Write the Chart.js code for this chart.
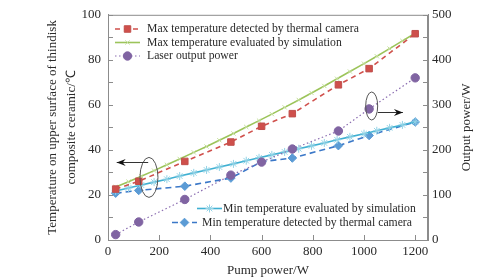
<!DOCTYPE html>
<html>
<head>
<meta charset="utf-8">
<script src="https://cdn.jsdelivr.net/npm/chart.js@4.4.0/dist/chart.umd.min.js"></script>
<style>
  html, body { margin: 0; padding: 0; background: #fff; }
</style>
</head>
<body>
<canvas id="lineChart" width="490" height="280"></canvas>
<script>
// measured points
var pumpPower   = [30, 120, 300, 480, 600, 720, 900, 1020, 1200];
var maxDetected = [22.6, 26.1, 34.9, 43.5, 50.5, 56.1, 68.9, 76.1, 91.6];
var minDetected = [20.8, 22.0, 23.9, 27.5, 34.8, 36.4, 41.9, 46.4, 52.4];
var laserOutput = [12, 40, 90, 144, 173, 202, 242, 291, 360];

// simulation points
var simPower = [30, 80, 130, 180, 230, 280, 335, 385, 435, 490, 540, 590,
                640, 690, 745, 795, 845, 895, 945, 1000, 1050, 1100, 1150, 1200];
var maxSim = [23.5, 25.9, 28.3, 30.8, 33.4, 36.0, 38.9, 41.5, 44.3, 47.3, 50.2, 53.0,
              55.9, 58.9, 62.2, 65.3, 68.4, 71.6, 74.8, 78.3, 81.6, 85.0, 88.4, 91.8];
var minSim = [21.8, 23.1, 24.4, 25.7, 27.0, 28.4, 29.8, 31.1, 32.4, 33.8, 35.2, 36.5,
              37.8, 39.1, 40.5, 41.8, 43.1, 44.5, 45.8, 47.2, 48.5, 49.8, 51.1, 52.5];

var xTicks = [0, 200, 400, 600, 800, 1000, 1200];

function pts(xs, ys) {
    return xs.map(function (x, i) { return { x: x, y: ys[i] }; });
}

var serif = 'Liberation Serif';
var textColor = '#2a2a2a';
var axisColor = '#8c8c8c';

// legend entries drawn inside the plot (sample start, text start, row)
var legendSpots = [
    { ds: 0, x: 115, tx: 147, y: 29 },
    { ds: 1, x: 115, tx: 147, y: 42.5 },
    { ds: 2, x: 115, tx: 147, y: 56 },
    { ds: 3, x: 197, tx: 223, y: 208.5 },
    { ds: 4, x: 172, tx: 202, y: 222.5 }
];

var insideLegend = {
    id: 'insideLegend',
    afterDraw: function (chart) {
        var ctx = chart.ctx;
        ctx.save();
        legendSpots.forEach(function (s) {
            var ds = chart.data.datasets[s.ds];
            ctx.strokeStyle = ds.borderColor;
            ctx.lineWidth = ds.borderWidth;
            ctx.setLineDash(ds.borderDash || []);
            ctx.beginPath();
            ctx.moveTo(s.x, s.y);
            ctx.lineTo(s.x + 25, s.y);
            ctx.stroke();
            ctx.setLineDash([]);
            ctx.fillStyle = ds.pointBackgroundColor;
            ctx.strokeStyle = ds.pointBorderColor;
            ctx.lineWidth = ds.pointBorderWidth;
            Chart.helpers.drawPoint(ctx, {
                pointStyle: ds.pointStyle, radius: ds.pointRadius,
                borderWidth: ds.pointBorderWidth, rotation: 0
            }, s.x + 12.5, s.y);
            ctx.fillStyle = textColor;
            ctx.font = '11.7px "' + serif + '"';
            ctx.textBaseline = 'middle';
            ctx.textAlign = 'left';
            ctx.fillText(ds.label, s.tx, s.y);
        });
        ctx.restore();
    }
};

// frame, inward tick marks, right title, ellipses and arrows
var frameMarks = {
    id: 'frameMarks',
    afterDraw: function (chart) {
        var ctx = chart.ctx, a = chart.chartArea;
        var sx = chart.scales.x, sy = chart.scales.y, sy1 = chart.scales.y1;
        ctx.save();
        ctx.strokeStyle = axisColor;
        ctx.lineWidth = 1;
        ctx.strokeRect(a.left + 0.5, a.top + 0.5, a.right - a.left - 1, a.bottom - a.top);
        ctx.beginPath();
        sx.ticks.forEach(function (t) {
            var px = Math.round(sx.getPixelForValue(t.value)) + 0.5;
            ctx.moveTo(px, a.bottom); ctx.lineTo(px, a.bottom - 5);
        });
        sy.ticks.forEach(function (t) {
            var py = Math.round(sy.getPixelForValue(t.value)) + 0.5;
            ctx.moveTo(a.left, py); ctx.lineTo(a.left + 5, py);
        });
        sy1.ticks.forEach(function (t) {
            var py = Math.round(sy1.getPixelForValue(t.value)) + 0.5;
            ctx.moveTo(a.right, py); ctx.lineTo(a.right - 5, py);
        });
        ctx.stroke();

        // right axis title, reading bottom to top
        ctx.save();
        ctx.translate(sy1.right - 23, (a.top + a.bottom) / 2);
        ctx.rotate(-Math.PI / 2);
        ctx.fillStyle = textColor;
        ctx.font = '13px "' + serif + '"';
        ctx.textAlign = 'center';
        ctx.textBaseline = 'middle';
        ctx.fillText('Output power/W', 0, 0);
        ctx.restore();

        // ellipses
        ctx.strokeStyle = '#555';
        ctx.beginPath();
        ctx.ellipse(sx.getPixelForValue(160), sy.getPixelForValue(27.8), 9, 20, 0, 0, Math.PI * 2);
        ctx.stroke();
        ctx.beginPath();
        ctx.ellipse(sx.getPixelForValue(1030), sy.getPixelForValue(59.5), 6, 14, 0, 0, Math.PI * 2);
        ctx.stroke();

        function arrow(x0, x1, y) {
            ctx.strokeStyle = '#333';
            ctx.fillStyle = '#111';
            ctx.beginPath();
            ctx.moveTo(x0, y); ctx.lineTo(x1, y);
            ctx.stroke();
            var d = x1 > x0 ? 1 : -1;
            ctx.beginPath();
            ctx.moveTo(x1, y);
            ctx.lineTo(x1 - d * 9, y - 3.5);
            ctx.lineTo(x1 - d * 6, y);
            ctx.lineTo(x1 - d * 9, y + 3.5);
            ctx.closePath();
            ctx.fill();
        }
        arrow(sx.getPixelForValue(157), sx.getPixelForValue(34), Math.round(sy.getPixelForValue(34.5)) + 0.5);
        arrow(sx.getPixelForValue(1054), sx.getPixelForValue(1152), Math.round(sy.getPixelForValue(57)) + 0.5);
        ctx.restore();
    }
};

var data = {
    datasets: [
        {
            label: 'Max temperature detected by thermal camera',
            data: pts(pumpPower, maxDetected),
            yAxisID: 'y',
            borderColor: '#d0504c',
            borderWidth: 1.6,
            borderDash: [5, 4],
            pointStyle: 'rect',
            pointRadius: 4.6,
            pointBackgroundColor: '#cf4f4b',
            pointBorderColor: '#c0504d',
            pointBorderWidth: 1
        },
        {
            label: 'Max temperature evaluated by simulation',
            data: pts(simPower, maxSim),
            yAxisID: 'y',
            borderColor: '#9cc45a',
            borderWidth: 1.6,
            pointStyle: 'crossRot',
            pointRadius: 3,
            pointBackgroundColor: '#c4de9c',
            pointBorderColor: '#c4de9c',
            pointBorderWidth: 1
        },
        {
            label: 'Laser output power',
            data: pts(pumpPower, laserOutput),
            yAxisID: 'y1',
            borderColor: '#8a6cb0',
            borderWidth: 1.2,
            borderDash: [1.5, 2.5],
            pointStyle: 'circle',
            pointRadius: 4.2,
            pointBackgroundColor: '#8064a2',
            pointBorderColor: '#8064a2',
            pointBorderWidth: 1
        },
        {
            label: 'Min temperature evaluated by simulation',
            data: pts(simPower, minSim),
            yAxisID: 'y',
            borderColor: '#3fb0d2',
            borderWidth: 1.6,
            pointStyle: 'star',
            pointRadius: 4,
            pointBackgroundColor: '#93d3e6',
            pointBorderColor: '#93d3e6',
            pointBorderWidth: 1
        },
        {
            label: 'Min temperature detected by thermal camera',
            data: pts(pumpPower, minDetected),
            yAxisID: 'y',
            borderColor: '#3b78c8',
            borderWidth: 1.6,
            borderDash: [6, 4],
            pointStyle: 'rectRot',
            pointRadius: 4.3,
            pointBackgroundColor: '#5b9bd5',
            pointBorderColor: '#5b9bd5',
            pointBorderWidth: 1
        }
    ]
};

var tickFont = { family: serif, size: 13 };
var titleFont = { family: serif, size: 13, lineHeight: 1.45 };

var myChart = new Chart(document.getElementById('lineChart'), {
    type: 'line',
    data: data,
    plugins: [frameMarks, insideLegend],
    options: {
        responsive: false,
        animation: false,
        devicePixelRatio: 1,
        layout: { padding: { top: 13, left: 0, right: 0, bottom: 0 } },
        plugins: { legend: { display: false }, tooltip: { enabled: false } },
        elements: { line: { tension: 0, fill: false } },
        scales: {
            x: {
                type: 'linear',
                min: 0,
                max: 1250,
                afterBuildTicks: function (s) {
                    s.ticks = xTicks.map(function (v) { return { value: v }; });
                },
                afterFit: function (s) { s.height = 40; },
                grid: { drawOnChartArea: false, drawTicks: false },
                border: { color: axisColor },
                ticks: {
                    padding: 4, color: textColor, font: tickFont, maxRotation: 0, autoSkip: false,
                    callback: function (v) { return String(v); }
                },
                title: { display: true, text: 'Pump power/W', color: textColor, font: titleFont, padding: { top: 0, bottom: 0 } }
            },
            y: {
                position: 'left',
                min: 0,
                max: 100,
                afterFit: function (s) { s.width = 108; },
                grid: { drawOnChartArea: false, drawTicks: false },
                border: { color: axisColor },
                ticks: {
                    stepSize: 10, padding: 7, color: textColor, font: tickFont, autoSkip: false,
                    callback: function (v) { return v % 20 === 0 ? String(v) : ''; }
                },
                title: {
                    display: true,
                    text: ['Temperature on upper surface of thindisk', 'composite ceramic/\u2103'],
                    color: textColor, font: titleFont, padding: { top: 43, bottom: 0 }
                }
            },
            y1: {
                position: 'right',
                min: 0,
                max: 500,
                afterFit: function (s) { s.width = 62; },
                grid: { drawOnChartArea: false, drawTicks: false },
                border: { color: axisColor },
                ticks: {
                    stepSize: 50, padding: 4, color: textColor, font: tickFont, autoSkip: false,
                    callback: function (v) { return v % 100 === 0 ? String(v) : ''; }
                },
                title: { display: false }
            }
        }
    }
});
</script>
</body>
</html>
